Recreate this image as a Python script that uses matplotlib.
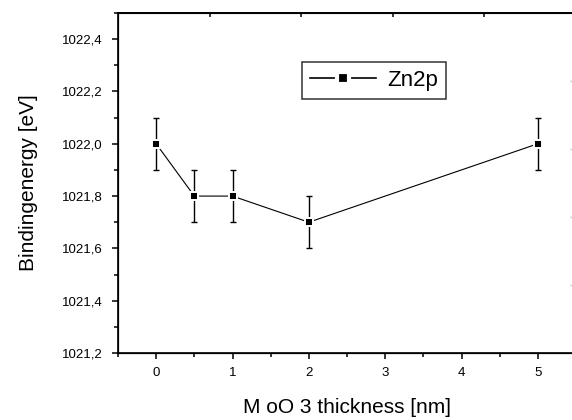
import matplotlib.pyplot as plt
from matplotlib.ticker import MultipleLocator, FuncFormatter

# Data
thickness = [0, 0.5, 1, 2, 5]
energy = [1022.0, 1021.8, 1021.8, 1021.7, 1022.0]
err = [0.1, 0.1, 0.1, 0.1, 0.1]
series_name = 'Zn2p'

plt.rcParams['font.family'] = ['Liberation Sans', 'DejaVu Sans']

fig = plt.figure(figsize=(5.72, 4.2), dpi=100)
ax = fig.add_axes([118 / 572, 67 / 420, 458 / 572, 340 / 420])

# error bars, then line, then markers with a white rim to leave the Origin-style gaps
ax.errorbar(thickness, energy, yerr=err, fmt='none', ecolor='black',
            elinewidth=1.0, capsize=2.5, capthick=1.0, zorder=2)
ax.plot(thickness, energy, '-', color='black', lw=0.8, zorder=3)
ax.plot(thickness, energy, 's', color='black', ms=5.2, mec='white', mew=1.4, zorder=4)

# legend handle: line with marker
ax.plot([], [], '-s', color='black', lw=1.2, ms=8, mec='white', mew=3, label=series_name)
leg = ax.legend(loc='upper left', bbox_to_anchor=((302 - 118) / 458, (353 - 62) / 340),
                fontsize=16, frameon=True, fancybox=False, edgecolor='black',
                handlelength=3.0, handletextpad=0.5, borderpad=0.35, borderaxespad=0)
leg.get_frame().set_linewidth(1.1)

ax.set_xlim(-0.5, 5.5)
ax.set_ylim(1021.2, 1022.5)
ax.xaxis.set_major_locator(MultipleLocator(1))
ax.xaxis.set_minor_locator(MultipleLocator(0.5))
ax.yaxis.set_major_locator(MultipleLocator(0.2))
ax.yaxis.set_minor_locator(MultipleLocator(0.1))
ax.yaxis.set_major_formatter(FuncFormatter(lambda v, p: f'{v:.1f}'.replace('.', ',')))

ax.tick_params(which='major', direction='out', length=4, width=1.1, labelsize=9.5)
ax.tick_params(which='minor', direction='out', length=3, width=1.1)
ax.tick_params(axis='x', pad=6)
ax.tick_params(axis='y', pad=7)
ax.tick_params(top=False, right=False)
for s in ax.spines.values():
    s.set_linewidth(1.2)

# top axis ticks (separate scale in the original)
top = ax.twiny()
top.set_xlim(0, 5)
top.set_xticks([1, 2, 3, 4])
top.tick_params(axis='x', direction='in', length=3, width=1.1, labeltop=False)
top.spines['top'].set_linewidth(1.2)

# faint right axis ticks near the clipped edge
rt = ax.twinx()
rt.set_ylim(0, 5)
rt.set_yticks([1, 2, 3, 4])
rt.tick_params(axis='y', direction='in', length=4, width=1.0, color='#c8c8c8', labelright=False)

ax.set_xlabel('M oO 3 thickness [nm]', fontsize=15, labelpad=14)
ax.set_ylabel('Bindingenergy [eV]', fontsize=15, labelpad=17)

fig.savefig('out.png', dpi=100)
